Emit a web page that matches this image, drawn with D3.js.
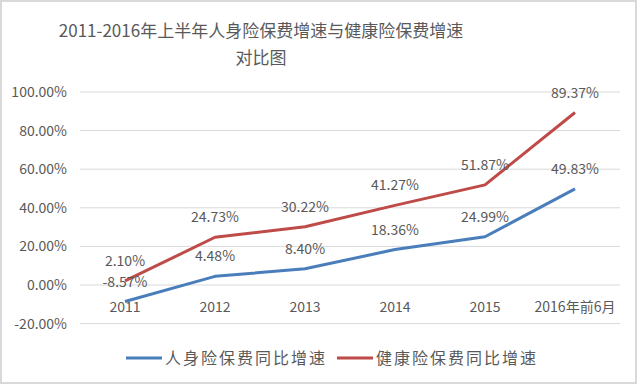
<!DOCTYPE html>
<html>
<head>
<meta charset="utf-8">
<script src="https://cdn.jsdelivr.net/npm/d3@7"></script>
<style>
  body { margin: 0; background: #fff; }
  text { font-family: "Noto Sans CJK SC", "Noto Sans", sans-serif; fill: #595959; }
</style>
</head>
<body>
<div id="chart"></div>
<script>
// data
var categories = ["2011", "2012", "2013", "2014", "2015", "2016年前6月"];
var lifeGrowth = [-8.57, 4.48, 8.40, 18.36, 24.99, 49.83];
var healthGrowth = [2.10, 24.73, 30.22, 41.27, 51.87, 89.37];
var yTicks = [-20, 0, 20, 40, 60, 80, 100];
var seriesNames = ["人身险保费同比增速", "健康险保费同比增速"];

var width = 640, height = 385;

var svg = d3.select("#chart").append("svg")
  .attr("width", width)
  .attr("height", height);

// outer frame
svg.append("rect")
  .attr("x", 1).attr("y", 1)
  .attr("width", 635).attr("height", 382)
  .attr("fill", "#fff")
  .attr("stroke", "#d9d9d9")
  .attr("stroke-width", 2);

// scales
var x = d3.scalePoint().domain(categories).range([125, 575]);
var y = d3.scaleLinear().domain([-20, 100]).range([323.6, 92]);

// gridlines
svg.append("g").selectAll("line")
  .data(yTicks)
  .enter().append("line")
  .attr("x1", 80).attr("x2", 620)
  .attr("y1", d => y(d)).attr("y2", d => y(d))
  .attr("stroke", "#d9d9d9")
  .attr("stroke-width", 1);

// y axis labels
var yAxis = d3.axisLeft(y).tickValues(yTicks).tickSize(0).tickPadding(0)
  .tickFormat(d => d.toFixed(2) + "%");
svg.append("g")
  .attr("transform", "translate(67,0)")
  .call(yAxis)
  .call(g => g.select(".domain").remove())
  .selectAll("text")
  .attr("font-size", 14)
  .attr("fill", "#595959")
  .style("font-family", '"Noto Sans CJK SC", sans-serif');

// x labels (below the zero line)
svg.append("g").selectAll("text")
  .data(categories)
  .enter().append("text")
  .attr("x", d => x(d))
  .attr("y", 312)
  .attr("text-anchor", "middle")
  .attr("font-size", 14)
  .text(d => d);

// lines
var line = d3.line()
  .x((d, i) => x(categories[i]))
  .y(d => y(d));

var series = [
  {name: seriesNames[0], values: lifeGrowth, color: "#4a7ebb"},
  {name: seriesNames[1], values: healthGrowth, color: "#be4b48"}
];

series.forEach(s => {
  svg.append("path")
    .attr("d", line(s.values))
    .attr("fill", "none")
    .attr("stroke", s.color)
    .attr("stroke-width", 3)
    .attr("stroke-linejoin", "round");
});

// data labels
series.forEach(s => {
  svg.append("g").selectAll("text")
    .data(s.values)
    .enter().append("text")
    .attr("x", (d, i) => x(categories[i]))
    .attr("y", d => y(d) - 15)
    .attr("text-anchor", "middle")
    .attr("font-size", 14)
    .text(d => d.toFixed(2) + "%");
});

// title
var title = svg.append("text")
  .attr("text-anchor", "middle")
  .attr("font-size", 17)
  .attr("fill", "#595959");
title.append("tspan").attr("x", 261).attr("y", 37)
  .text("2011-2016年上半年人身险保费增速与健康险保费增速");
title.append("tspan").attr("x", 261).attr("y", 64)
  .text("对比图");

// legend
var legendX = [126, 337];
series.forEach((s, i) => {
  var lg = svg.append("g").attr("transform", "translate(" + legendX[i] + ",358)");
  lg.append("line")
    .attr("x1", 0).attr("x2", 36)
    .attr("stroke", s.color)
    .attr("stroke-width", 3);
  lg.append("text")
    .attr("x", 39)
    .attr("y", 6)
    .attr("font-size", 16)
    .attr("letter-spacing", 2)
    .text(s.name);
});
</script>
</body>
</html>
